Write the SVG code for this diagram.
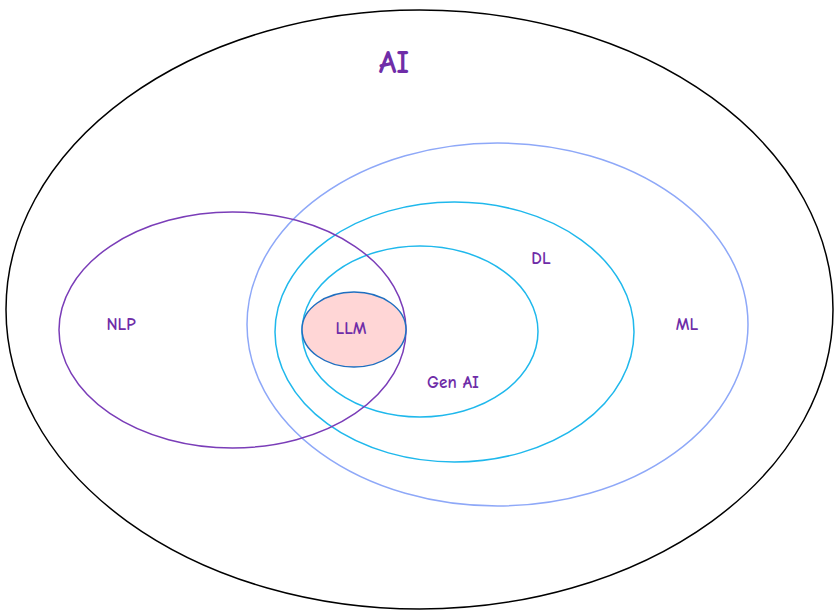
<svg xmlns="http://www.w3.org/2000/svg" width="839" height="615" viewBox="0 0 839 615">
<style>
.e{fill:none;stroke-width:1.5}
.t{font-family:"Comic Neue","Liberation Sans",sans-serif;fill:#6f2da8;text-anchor:middle;dominant-baseline:central;font-weight:bold}
.s{font-size:17px}
</style>
<rect width="839" height="615" fill="#fff"/>
<g id="ai"><ellipse class="e" cx="419.5" cy="309.5" rx="413.5" ry="299.5" stroke="#000"/><text class="t" x="394" y="62" font-size="32">AI</text></g>
<g id="ml"><ellipse class="e" cx="497.5" cy="324.5" rx="250.5" ry="181.5" stroke="#8ea8f8"/><text class="t s" x="687" y="324">ML</text></g>
<g id="dl"><ellipse class="e" cx="454.5" cy="332" rx="179.5" ry="130" stroke="#1fb8ec"/><text class="t s" x="541" y="258">DL</text></g>
<g id="genai"><ellipse class="e" cx="420" cy="331.5" rx="118" ry="85.5" stroke="#1fb8ec"/><text class="t s" x="453" y="382">Gen AI</text></g>
<g id="nlp"><ellipse class="e" cx="232.5" cy="330" rx="173.5" ry="118" stroke="#7a3db8"/><text class="t s" x="121" y="324">NLP</text></g>
<g id="llm"><ellipse cx="354" cy="329.5" rx="52" ry="37.5" fill="#ffd6d6" stroke="#1f6fc0" stroke-width="1.5"/><text class="t s" x="351" y="328">LLM</text></g>
<g id="connectors"/>
</svg>
